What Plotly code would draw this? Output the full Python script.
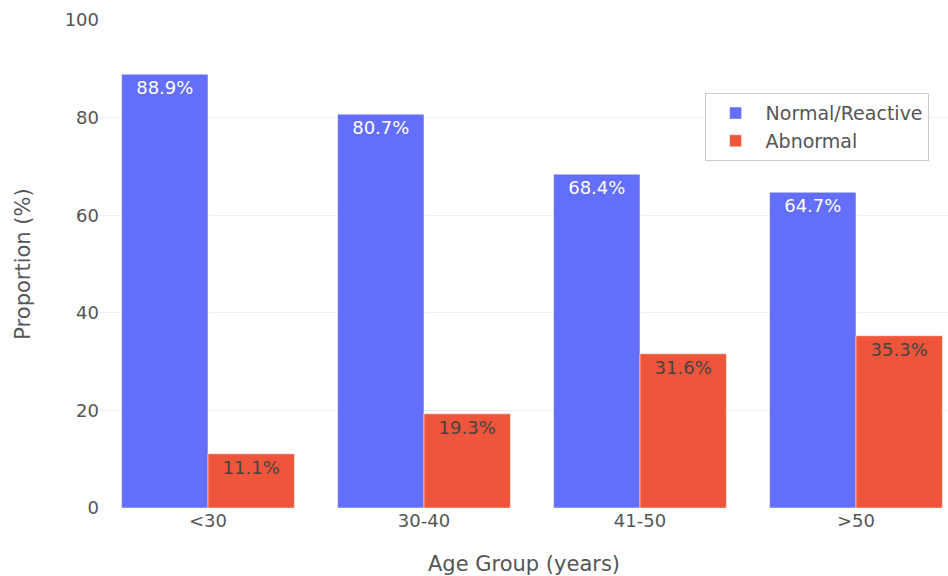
import plotly.graph_objects as go

age_groups = ["<30", "30-40", "41-50", ">50"]
normal_reactive = [88.9, 80.7, 68.4, 64.7]
abnormal = [11.1, 19.3, 31.6, 35.3]
y_ticks = [0, 20, 40, 60, 80, 100]

FONT = "Verdana, DejaVu Sans, sans-serif"
BLUE = "#636EFA"
RED = "#EF553B"

fig = go.Figure()
for name, values, color in [("Normal/Reactive", normal_reactive, BLUE),
                            ("Abnormal", abnormal, RED)]:
    fig.add_trace(go.Bar(
        name=name, x=age_groups, y=values,
        text=[f"{v}%" for v in values], textposition="inside",
        insidetextanchor="end", marker_color=color,
        textfont=dict(size=18),
    ))

fig.update_layout(
    width=948, height=576,
    template="plotly_white",
    barmode="group", bargap=0.2, bargroupgap=0,
    font=dict(family=FONT, size=18, color="#555"),
    margin=dict(l=100, r=0, t=20, b=68),
    legend=dict(
        x=0.713, y=0.85, xanchor="left", yanchor="top",
        bordercolor="#cccccc", borderwidth=1, bgcolor="white",
        font=dict(size=19), itemwidth=50,
    ),
    xaxis=dict(
        title=dict(text="Age Group (years)", font=dict(size=21), standoff=26),
        range=[-0.5, 3.426],
        showgrid=False,
    ),
    yaxis=dict(
        title=dict(text="Proportion (%)", font=dict(size=21), standoff=28),
        range=[0, 100], tickvals=y_ticks,
        gridcolor="#EBF0F8", zeroline=False,
    ),
)

fig.write_html("out.html")
